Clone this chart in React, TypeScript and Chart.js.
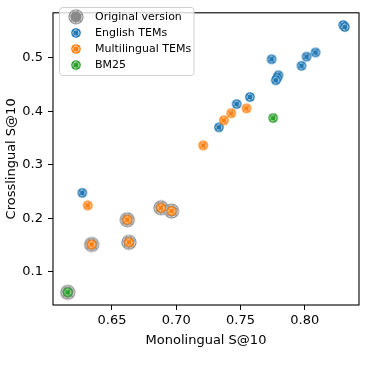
import React, { useEffect, useRef } from "react";
import { Chart, registerables } from "chart.js";

Chart.register(...registerables);

const xTickValues = [0.65, 0.7, 0.75, 0.8];
const yTickValues = [0.1, 0.2, 0.3, 0.4, 0.5];

const englishX = [0.8299, 0.8312, 0.7742, 0.8014, 0.8084, 0.7975, 0.7795, 0.7785, 0.7775, 0.7573, 0.747, 0.7332, 0.6269];
const englishY = [0.5608, 0.5571, 0.4969, 0.5018, 0.5096, 0.4848, 0.467, 0.462, 0.4577, 0.4264, 0.4132, 0.3698, 0.2474];

const multiX = [0.7547, 0.7428, 0.7371, 0.721, 0.6311, 0.6619, 0.6881, 0.6964, 0.6342, 0.6632];
const multiY = [0.4052, 0.3962, 0.383, 0.336, 0.2239, 0.1973, 0.2197, 0.2136, 0.151, 0.1551];
const multiOriginal = [false, false, false, false, false, true, true, true, true, true];

const bm25X = [0.7754, 0.6156];
const bm25Y = [0.3872, 0.0617];
const bm25Original = [false, true];

const legendLabels = ["Original version", "English TEMs", "Multilingual TEMs", "BM25"];

const FONT = "'DejaVu Sans', sans-serif";

function makeMarker(color: string, r: number, ringR: number, dash: number[]) {
  const size = Math.ceil(r * 2 + 4);
  const c = document.createElement("canvas");
  c.width = size;
  c.height = size;
  const ctx = c.getContext("2d")!;
  const cx = size / 2;
  ctx.beginPath();
  ctx.arc(cx, cx, r, 0, Math.PI * 2);
  ctx.fillStyle = color;
  ctx.fill();
  ctx.beginPath();
  ctx.arc(cx, cx, ringR, 0, Math.PI * 2);
  ctx.strokeStyle = "rgba(255,255,255,0.9)";
  ctx.lineWidth = 0.9;
  ctx.setLineDash(dash);
  ctx.stroke();
  return c;
}

export default function App() {
  const ref = useRef<HTMLCanvasElement>(null);
  useEffect(() => {
    document.body.style.margin = "0";
    const blue = makeMarker("#1f77b4", 4.8, 3.0, [3, 0.9]);
    const orange = makeMarker("#ff7f0e", 4.8, 3.0, [3, 0.9]);
    const green = makeMarker("#2ca02c", 4.8, 3.0, [3, 0.9]);
    const gray = makeMarker("#8a8a8a", 7.6, 6.0, [4, 1]);
    const markers = [gray, blue, orange, green];

    const toPts = (xs: number[], ys: number[]) => xs.map((x, i) => ({ x, y: ys[i] }));
    const originalPts = [
      ...toPts(multiX, multiY).filter((_, i) => multiOriginal[i]),
      ...toPts(bm25X, bm25Y).filter((_, i) => bm25Original[i]),
    ];

    const framePlugin = {
      id: "frame",
      afterDatasetsDraw(chart: any) {
        const { ctx, chartArea: a } = chart;
        ctx.save();
        ctx.strokeStyle = "#000";
        ctx.lineWidth = 1.1;
        ctx.strokeRect(a.left, a.top, a.right - a.left, a.bottom - a.top);
        ctx.restore();
      },
      afterDraw(chart: any) {
        const { ctx } = chart;
        ctx.save();
        const bx = 59.5, by = 7.5, bw = 134.5, bh = 68, rr = 3;
        ctx.beginPath();
        ctx.roundRect(bx, by, bw, bh, rr);
        ctx.fillStyle = "rgba(255,255,255,0.8)";
        ctx.fill();
        ctx.strokeStyle = "#d0d0d0";
        ctx.lineWidth = 1;
        ctx.stroke();
        ctx.font = `11px ${FONT}`;
        ctx.fillStyle = "#000";
        ctx.textBaseline = "middle";
        legendLabels.forEach((lab, i) => {
          const y = 16.8 + i * 16.1;
          const m = markers[i];
          ctx.drawImage(m, 76 - m.width / 2, y - m.height / 2);
          ctx.fillText(lab, 95, y);
        });
        ctx.restore();
      },
    };

    const chart = new Chart(ref.current!, {
      type: "scatter",
      data: {
        datasets: [
          { label: legendLabels[0], data: originalPts, pointStyle: gray as any, order: 5 },
          { label: legendLabels[1], data: toPts(englishX, englishY), pointStyle: blue as any, order: 3 },
          { label: legendLabels[2], data: toPts(multiX, multiY), pointStyle: orange as any, order: 2 },
          { label: legendLabels[3], data: toPts(bm25X, bm25Y), pointStyle: green as any, order: 1 },
        ],
      },
      options: {
        responsive: false,
        animation: false,
        events: [],
        layout: { padding: { top: 3, right: 23, left: 0, bottom: 0 } },
        plugins: { legend: { display: false }, tooltip: { enabled: false } },
        scales: {
          x: {
            type: "linear",
            min: 0.6041,
            max: 0.8422,
            afterFit: (s: any) => { s.height = 75; },
            afterBuildTicks: (s: any) => { s.ticks = xTickValues.map((v) => ({ value: v })); },
            border: { display: false },
            grid: { display: true, drawOnChartArea: false, drawTicks: true, tickLength: 5, color: "#000", lineWidth: 1 },
            ticks: {
              color: "#000",
              font: { family: FONT, size: 13 },
              padding: 3,
              maxRotation: 0,
              callback: (v: any) => Number(v).toFixed(2),
            },
            title: {
              display: true,
              text: "Monolingual S@10",
              color: "#000",
              font: { family: FONT, size: 13 },
              padding: { top: 0, bottom: 32 },
            },
          },
          y: {
            type: "linear",
            min: 0.038,
            max: 0.5837,
            afterFit: (s: any) => { s.width = 53; },
            afterBuildTicks: (s: any) => { s.ticks = yTickValues.map((v) => ({ value: v })); },
            border: { display: false },
            grid: { display: true, drawOnChartArea: false, drawTicks: true, tickLength: 5, color: "#000", lineWidth: 1 },
            ticks: {
              color: "#000",
              font: { family: FONT, size: 13 },
              padding: 5,
              callback: (v: any) => Number(v).toFixed(1),
            },
            title: {
              display: true,
              text: "Crosslingual S@10",
              color: "#000",
              font: { family: FONT, size: 13 },
              padding: { top: 4, bottom: 0 },
            },
          },
        },
      },
      plugins: [framePlugin],
    } as any);
    return () => chart.destroy();
  }, []);
  return (
    <div style={{ width: 382, height: 380 }}>
      <canvas ref={ref} width={382} height={380} style={{ display: "block" }} />
    </div>
  );
}
